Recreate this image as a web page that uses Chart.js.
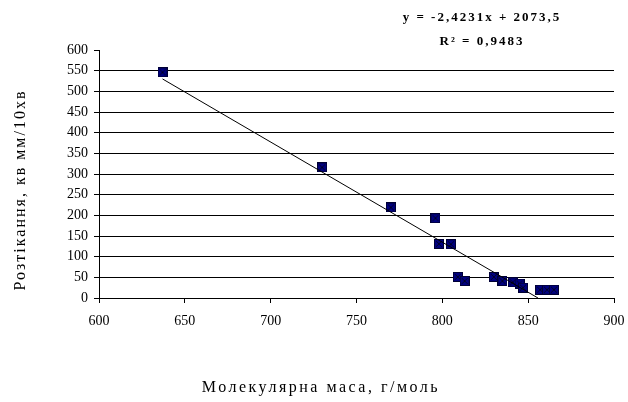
<!DOCTYPE html>
<html>
<head>
<meta charset="utf-8">
<script src="https://cdn.jsdelivr.net/npm/chart.js@4.4.0/dist/chart.umd.min.js"></script>
<style>
  html, body { margin: 0; padding: 0; background: #fff; }
  #wrap { width: 628px; height: 402px; position: relative; }
</style>
</head>
<body>
<div id="wrap"><canvas id="c" width="628" height="402"></canvas></div>
<script>
// Молекулярна маса (г/моль) → розтікання (кв мм / 10 хв)
const molarMass = [637, 730, 770, 796, 798, 805, 809, 813, 830, 835, 841, 845, 847, 857, 861, 865];
const spreading = [546, 316, 219, 193, 131, 130, 51, 41, 51, 41, 38, 35, 25, 20, 20, 20];

// лінія тренду з підпису Excel
const SLOPE     = -2.4231;
const INTERCEPT = 2073.5;
const eqLines   = ['y = -2,4231x + 2073,5', 'R² = 0,9483'];

const xTitle = 'Молекулярна маса, г/моль';
const yTitle = 'Розтікання, кв мм/10хв';

const X_MIN = 600, X_MAX = 900, X_STEP = 50;
const Y_MIN = 0,   Y_MAX = 600, Y_STEP = 50;

const SERIF = '"Liberation Serif", "DejaVu Serif", serif';

// маркер: темно-синій квадрат з хрестиком
function makeMarker() {
  const s = 10;
  const cv = document.createElement('canvas');
  cv.width = s; cv.height = s;
  const g = cv.getContext('2d');
  g.fillStyle = '#000080';
  g.fillRect(0, 0, s, s);
  g.strokeStyle = '#000033';
  g.lineWidth = 1;
  g.strokeRect(0.5, 0.5, s - 1, s - 1);
  g.beginPath();
  g.moveTo(2, 2); g.lineTo(s - 2, s - 2);
  g.moveTo(s - 2, 2); g.lineTo(2, s - 2);
  g.strokeStyle = 'rgba(0,0,0,0.7)';
  g.stroke();
  return cv;
}

const points = molarMass.map((x, i) => ({ x, y: spreading[i] }));
const trendX0 = Math.min(...molarMass);
const trendX1 = -INTERCEPT / SLOPE; // де лінія доходить до нуля
const trend = [trendX0, trendX1].map(x => ({ x, y: SLOPE * x + INTERCEPT }));

const textPlugin = {
  id: 'texts',
  afterDraw(chart) {
    const ctx = chart.ctx;
    ctx.save();
    ctx.fillStyle = '#000';
    ctx.textAlign = 'center';
    ctx.textBaseline = 'middle';

    // рівняння тренду
    ctx.font = 'bold 13px ' + SERIF;
    ctx.letterSpacing = '2px';
    ctx.fillText(eqLines[0], 482, 18);
    ctx.fillText(eqLines[1], 482, 42);

    // підпис осі X
    ctx.font = '16px ' + SERIF;
    ctx.letterSpacing = '2.5px';
    ctx.fillText(xTitle, 321, 388);

    // підпис осі Y
    ctx.letterSpacing = '2px';
    ctx.translate(21, 190);
    ctx.rotate(-Math.PI / 2);
    ctx.fillText(yTitle, 0, 0);
    ctx.restore();
  }
};

new Chart(document.getElementById('c'), {
  type: 'scatter',
  data: {
    datasets: [
      {
        label: 'trend',
        type: 'line',
        data: trend,
        borderColor: '#000',
        borderWidth: 1,
        pointRadius: 0,
        fill: false,
        order: 0,
      },
      {
        label: 'data',
        data: points,
        pointStyle: makeMarker(),
        pointRadius: 5,
        order: 1,
      },
    ],
  },
  options: {
    responsive: false,
    animation: false,
    devicePixelRatio: 1,
    layout: { padding: { left: 0, right: 0, top: 50, bottom: 0 } },
    plugins: {
      legend: { display: false },
      tooltip: { enabled: false },
    },
    scales: {
      x: {
        type: 'linear',
        min: X_MIN, max: X_MAX,
        afterFit(s) { s.height = 104; s.paddingRight = 14; },
        ticks: {
          stepSize: X_STEP,
          color: '#000',
          font: { family: SERIF, size: 14 },
          padding: 10,
          maxRotation: 0,
        },
        grid: {
          drawOnChartArea: false,
          drawTicks: true,
          tickLength: 5,
          color: '#000',
        },
        border: { color: '#000', width: 1 },
      },
      y: {
        min: Y_MIN, max: Y_MAX,
        afterFit(s) { s.width = 99; },
        ticks: {
          stepSize: Y_STEP,
          color: '#000',
          font: { family: SERIF, size: 14 },
          padding: 6,
        },
        grid: {
          color: ctx => (ctx.tick && ctx.tick.value === Y_MAX ? 'rgba(0,0,0,0)' : '#000'),
          tickColor: '#000',
          lineWidth: 1,
          drawTicks: true,
          tickLength: 5,
        },
        border: { color: '#000', width: 1 },
      },
    },
  },
  plugins: [textPlugin],
});
</script>
</body>
</html>
